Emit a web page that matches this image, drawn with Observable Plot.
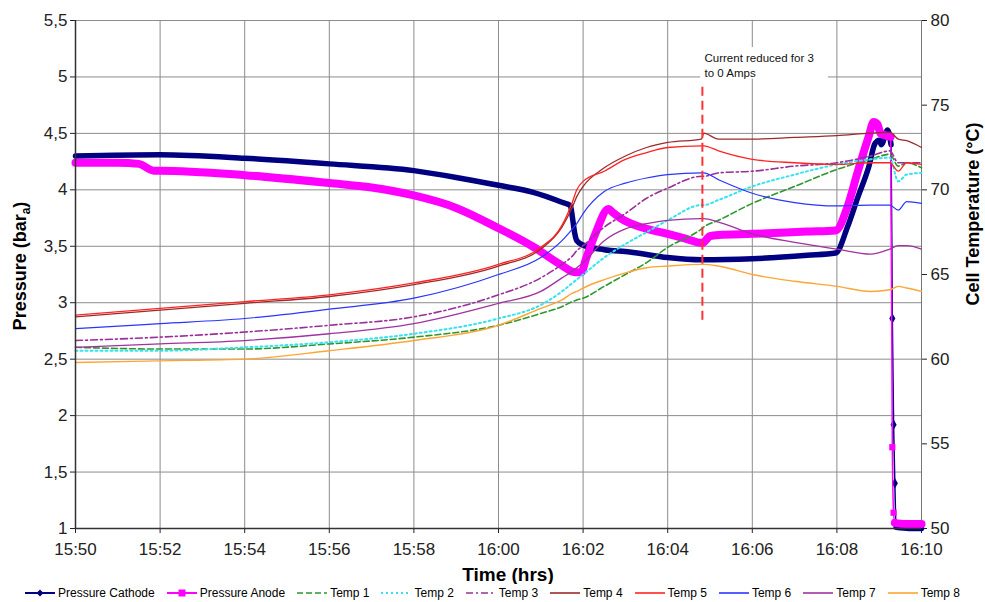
<!DOCTYPE html>
<html><head><meta charset="utf-8">
<script src="https://cdn.jsdelivr.net/npm/d3@7"></script>
<script src="https://cdn.jsdelivr.net/npm/@observablehq/plot@0.6"></script>
<style>
body{margin:0;background:#fff;font-family:"Liberation Sans",Arial,sans-serif;}
#legend{display:flex;justify-content:center;align-items:center;height:18px;font-size:12px;color:#000;width:985px;}
.item{display:flex;align-items:center;margin:0 6px;white-space:nowrap}
.item svg{margin-right:3px}
</style></head><body>
<div id="chart"></div>
<div id="legend"></div>
<script>
// ---- data (time in minutes after 15:50) ----
const xTickValues = [0, 2, 4, 6, 8, 10, 12, 14, 16, 18, 20];
const xTickLabels = ["15:50","15:52","15:54","15:56","15:58","16:00","16:02","16:04","16:06","16:08","16:10"];
const yTicks = [1, 1.5, 2, 2.5, 3, 3.5, 4, 4.5, 5, 5.5];
const tempTicks = [50, 55, 60, 65, 70, 75, 80];

const tCathode = [0,2,4,6,8,9,10,10.8,11.5,11.7,11.75,11.8,11.85,12.0,12.5,13.1,14,14.8,16,17.3,17.97,18.25,18.5,18.75,18.9,19.0,19.05,19.2,19.28,19.31,19.34,19.37,19.4,19.7,20];
const pCathode = [4.30,4.31,4.28,4.23,4.17,4.11,4.04,3.98,3.89,3.86,3.75,3.62,3.55,3.51,3.47,3.45,3.40,3.38,3.39,3.42,3.44,3.67,3.94,4.20,4.41,4.44,4.40,4.53,4.40,2.86,1.92,1.40,1.01,1.00,1.00];

const tAnode = [0,1,1.5,1.85,2,4,6,7,8,9,10,10.8,11.5,11.8,11.96,12.06,12.3,12.6,12.7,12.88,13.36,14,14.4,14.82,15.0,15.2,16,17.3,17.97,18.25,18.5,18.75,18.87,18.96,19.03,19.27,19.31,19.34,19.37,19.6,20];
const pAnode = [4.24,4.24,4.23,4.17,4.17,4.13,4.06,4.02,3.95,3.84,3.66,3.50,3.33,3.27,3.27,3.38,3.62,3.83,3.80,3.75,3.67,3.61,3.57,3.53,3.59,3.60,3.61,3.63,3.64,3.85,4.17,4.47,4.60,4.58,4.50,4.47,1.72,1.14,1.05,1.04,1.04];

const tTemp = [0,2,4,6,8,10,11,11.5,11.75,11.85,12,12.5,13,13.5,14,14.8,14.85,15.2,16,17,18,18.8,19.25,19.45,19.65,20];
const temp1 = [60.7,60.6,60.6,60.9,61.3,62.0,62.7,63.1,63.4,63.5,63.6,64.3,65.0,65.7,66.6,67.7,67.8,68.2,69.2,70.2,71.2,71.8,72.1,71.4,71.6,71.3];
const temp2 = [60.5,60.5,60.7,61.0,61.5,62.4,63.2,64.0,64.5,64.7,65.0,66.0,66.8,67.5,68.2,69.1,69.1,69.4,70.2,70.9,71.5,71.8,71.9,70.5,70.9,71.0];
const temp3 = [61.1,61.3,61.6,62.0,62.5,63.8,64.8,65.6,66.1,66.4,66.7,67.8,68.6,69.5,70.1,70.8,70.8,71.0,71.1,71.4,71.6,72.0,72.3,71.6,71.6,71.6];
const temp4 = [62.5,62.9,63.3,63.7,64.4,65.5,66.5,67.8,69.0,69.6,70.2,71.3,72.0,72.5,72.8,73.0,73.35,73.0,73.0,73.1,73.2,73.35,73.4,73.0,72.9,72.5];
const temp5 = [62.6,63.0,63.4,63.8,64.5,65.6,66.6,67.9,69.3,70.0,70.5,71.1,71.8,72.2,72.5,72.6,72.6,72.3,71.8,71.6,71.5,71.6,71.6,71.1,71.6,71.5];
const temp6 = [61.8,62.1,62.4,62.95,63.6,65.0,66.0,67.0,67.7,68.0,68.6,69.9,70.4,70.7,70.9,71.0,71.0,70.6,69.8,69.25,69.05,69.1,69.1,68.8,69.3,69.2];
const temp7 = [60.7,60.9,61.1,61.5,62.1,63.3,64.0,64.8,65.2,65.4,65.7,67.0,67.7,68.0,68.2,68.3,68.3,68.1,67.4,66.9,66.5,66.2,66.5,66.7,66.7,66.5];
const temp8 = [59.8,59.9,60.0,60.5,61.1,62.0,63.0,63.5,63.9,64.0,64.2,64.7,65.1,65.4,65.5,65.6,65.6,65.5,65.0,64.6,64.3,64.0,64.1,64.3,64.2,64.0];

const tempNames = ["Temp 1","Temp 2","Temp 3","Temp 4","Temp 5","Temp 6","Temp 7","Temp 8"];
const tempValues = [temp1, temp2, temp3, temp4, temp5, temp6, temp7, temp8];

const eventTime = 14.82;           // current reduced
const annotationLines = ["Current reduced for 3", "to 0 Amps"];

// ---- styles ----
const tempStyle = {
  "Temp 1": {stroke:"#2e962e", dash:"6,3", width:1.6},
  "Temp 2": {stroke:"#35e3f0", dash:"2,3", width:2},
  "Temp 3": {stroke:"#9a2f9a", dash:"7,3,2,3", width:1.6},
  "Temp 4": {stroke:"#9c2b2b", dash:null, width:1.3},
  "Temp 5": {stroke:"#ff2424", dash:null, width:1.3},
  "Temp 6": {stroke:"#2a35ff", dash:null, width:1.2},
  "Temp 7": {stroke:"#a032a0", dash:null, width:1.3},
  "Temp 8": {stroke:"#ffa533", dash:null, width:1.4}
};
const navy = "#000080", magenta = "#ff00ff";

// temperature (°C) -> pressure axis coordinate (50..80 °C  <->  1..5.5 bar)
const toP = T => 1 + (T - 50) * 4.5 / 30;
const toT = p => 50 + (p - 1) * 30 / 4.5;

const cathode = tCathode.map((t, i) => ({t, p: pCathode[i]}));
const anode = tAnode.map((t, i) => ({t, p: pAnode[i]}));
const isDrop = d => d.t > 19.28 && d.p < 4 && d.p > 1.1;
const tempRows = tTemp.flatMap((t, i) => tempNames.map((name, k) => ({series: name, t, T: tempValues[k][i]})));

const grid = "#8c8c8c";
const marks = [
  Plot.gridX(xTickValues, {stroke: grid, strokeOpacity: 1}),
  Plot.gridY(yTicks, {stroke: grid, strokeOpacity: 1}),
  Plot.rect([{x1: 14.78, x2: 17.8, y1: 4.98, y2: 5.26}], {x1: "x1", x2: "x2", y1: "y1", y2: "y2", fill: "white"}),
  Plot.axisX(xTickValues, {tickSize: 5, tickPadding: 9, label: null, tickFormat: d => xTickLabels[xTickValues.indexOf(d)]}),
  Plot.axisY(yTicks, {anchor: "left", tickSize: 5, tickPadding: 3, label: null, tickFormat: d => String(d).replace(".", ",")}),
  Plot.axisY(tempTicks.map(toP), {anchor: "right", tickSize: 5, tickPadding: 4, label: null, tickFormat: p => String(Math.round(toT(p)))}),
  Plot.ruleX([20], {stroke: "#777"}),
  // pressure cathode
  Plot.line(cathode, {x: "t", y: d => isDrop(d) ? NaN : d.p, stroke: navy, strokeWidth: 5.5, curve: "monotone-x"}),
  Plot.line(cathode, {x: "t", y: "p", stroke: navy, strokeWidth: 1.5, curve: "monotone-x"}),
  Plot.dot(cathode.filter(isDrop), {x: "t", y: "p", symbol: "diamond", r: 3.2, fill: navy, stroke: null}),
  // pressure anode
  Plot.line(anode, {x: "t", y: d => isDrop(d) ? NaN : d.p, stroke: magenta, strokeWidth: 8, curve: "monotone-x"}),
  Plot.line(anode, {x: "t", y: "p", stroke: magenta, strokeWidth: 1.5, curve: "monotone-x"}),
  Plot.dot(anode.filter(isDrop), {x: "t", y: "p", symbol: "square", r: 3.5, fill: magenta, stroke: null}),
  // temperatures
  ...tempNames.map(name => Plot.line(tempRows.filter(d => d.series === name), {
    x: "t", y: d => toP(d.T), curve: "monotone-x",
    stroke: tempStyle[name].stroke, strokeWidth: tempStyle[name].width,
    strokeDasharray: tempStyle[name].dash ?? undefined
  })),
  // event marker
  Plot.ruleX([{t: eventTime}], {x: "t", y1: 2.845, y2: 4.92, stroke: "#ff3333", strokeWidth: 2, strokeDasharray: "9,5"}),
  Plot.text([annotationLines.join("\n")], {x: 14.87, y: 5.106, text: d => d, textAnchor: "start", lineAnchor: "middle", lineHeight: 1.3, fontSize: 11.5, fill: "#111"}),
  // axis lines
  Plot.ruleX([0], {stroke: "#333", strokeWidth: 1.5}),
  Plot.ruleY([1], {stroke: "#333", strokeWidth: 1.5})
];

const chart = Plot.plot({
  width: 985, height: 584,
  marginLeft: 75, marginRight: 64, marginTop: 20, marginBottom: 56,
  style: {fontFamily: "'Liberation Sans', Arial, sans-serif", fontSize: "17px", background: "#fff", color: "#222"},
  x: {domain: [0, 20]},
  y: {domain: [1, 5.5]},
  marks
});

// axis titles
const svg = d3.select(chart);
const left = svg.append("text").attr("transform", "translate(26,266) rotate(-90)")
  .attr("text-anchor", "middle").attr("font-weight", "bold").attr("font-size", 18).attr("fill", "#000");
left.append("tspan").text("Pressure (bar");
left.append("tspan").attr("font-size", 12).attr("dy", 4).text("a");
left.append("tspan").attr("dy", -4).text(")");
svg.append("text").attr("transform", "translate(979,214) rotate(-90)")
  .attr("text-anchor", "middle").attr("font-weight", "bold").attr("font-size", 18).attr("fill", "#000")
  .text("Cell Temperature (°C)");
svg.append("text").attr("x", 508).attr("y", 581)
  .attr("text-anchor", "middle").attr("font-weight", "bold").attr("font-size", 19).attr("fill", "#000")
  .text("Time (hrs)");

document.getElementById("chart").appendChild(chart);

// legend
const legendItems = [
  {name: "Pressure Cathode", stroke: navy, dash: null, width: 2, marker: "diamond"},
  {name: "Pressure Anode", stroke: magenta, dash: null, width: 2, marker: "square"},
  ...tempNames.map(n => ({name: n, stroke: tempStyle[n].stroke, dash: tempStyle[n].dash, width: Math.max(1.6, tempStyle[n].width), marker: null}))
];
const legend = document.getElementById("legend");
legendItems.forEach(it => {
  let m = "";
  if (it.marker === "diamond") m = `<path d="M15,1.5 L18.5,5 L15,8.5 L11.5,5 Z" fill="${it.stroke}"/>`;
  if (it.marker === "square") m = `<rect x="11.5" y="1.5" width="7" height="7" fill="${it.stroke}"/>`;
  const el = document.createElement("div");
  el.className = "item";
  el.innerHTML = `<svg width="30" height="10"><line x1="0" y1="5" x2="30" y2="5" stroke="${it.stroke}" stroke-width="${it.width}" ${it.dash ? `stroke-dasharray="${it.dash}"` : ""}/>${m}</svg><span>${it.name}</span>`;
  legend.appendChild(el);
});
</script></body></html>
